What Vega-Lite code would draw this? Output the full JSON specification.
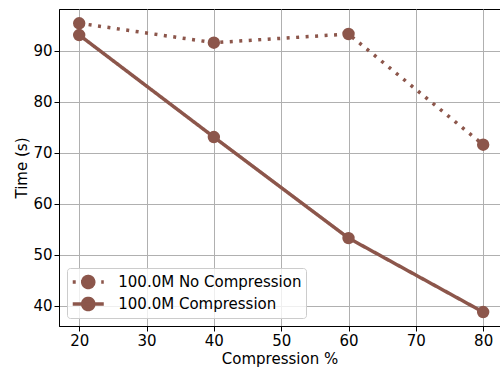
{
  "$schema": "https://vega.github.io/schema/vega-lite/v6.json",
  "width": 441,
  "height": 317,
  "autosize": {"type": "none"},
  "padding": {"left": 59, "top": 9, "right": 0, "bottom": 43},
  "background": "white",
  "config": {
    "font": "DejaVu Sans",
    "view": {"stroke": "black", "strokeWidth": 1},
    "axis": {
      "gridColor": "#b0b0b0",
      "gridWidth": 1,
      "gridOpacity": 1,
      "domainColor": "black",
      "tickColor": "black",
      "tickSize": 5,
      "labelFontSize": 15,
      "titleFontSize": 15,
      "titleFontWeight": "normal",
      "labelColor": "black",
      "titleColor": "black",
      "labelPadding": 2
    },
    "legend": {
      "orient": "bottom-left",
      "offset": 8,
      "fillColor": "rgba(255,255,255,0.8)",
      "strokeColor": "#cccccc",
      "cornerRadius": 3,
      "padding": 4,
      "labelFontSize": 15,
      "labelColor": "black",
      "labelLimit": 0,
      "rowPadding": 2,
      "clipHeight": 20
    }
  },
  "data": {
    "values": [
      {"compression": 20, "time": 95.4, "series": "100.0M No Compression"},
      {"compression": 40, "time": 91.6, "series": "100.0M No Compression"},
      {"compression": 60, "time": 93.3, "series": "100.0M No Compression"},
      {"compression": 80, "time": 71.6, "series": "100.0M No Compression"},
      {"compression": 20, "time": 93.1, "series": "100.0M Compression"},
      {"compression": 40, "time": 73.1, "series": "100.0M Compression"},
      {"compression": 60, "time": 53.3, "series": "100.0M Compression"},
      {"compression": 80, "time": 38.8, "series": "100.0M Compression"}
    ]
  },
  "encoding": {
    "x": {
      "field": "compression",
      "type": "quantitative",
      "scale": {"domain": [17, 82.5], "nice": false, "zero": false},
      "axis": {"values": [20, 30, 40, 50, 60, 70, 80], "title": "Compression %", "titlePadding": 3}
    },
    "y": {
      "field": "time",
      "type": "quantitative",
      "scale": {"domain": [36.07, 98.2], "nice": false, "zero": false},
      "axis": {"values": [40, 50, 60, 70, 80, 90], "title": "Time (s)", "titlePadding": 3}
    }
  },
  "layer": [
    {
      "mark": {"type": "line", "strokeWidth": 3.5, "color": "#8c564b", "clip": true, "strokeCap": "butt"},
      "encoding": {
        "strokeDash": {
          "field": "series",
          "type": "nominal",
          "scale": {"domain": ["100.0M No Compression", "100.0M Compression"], "range": [[3, 6.5], [1, 0]]},
          "legend": {
            "title": null,
            "symbolType": "M-1.94,0L1.94,0M-0.69,0A0.69,0.69,0,1,0,0.69,0A0.69,0.69,0,1,0,-0.69,0A0.69,0.69,0,1,0,0.69,0A0.69,0.69,0,1,0,-0.69,0A0.69,0.69,0,1,0,0.69,0A0.69,0.69,0,1,0,-0.69,0A0.69,0.69,0,1,0,0.69,0A0.69,0.69,0,1,0,-0.69,0A0.69,0.69,0,1,0,0.69,0A0.69,0.69,0,1,0,-0.69,0Z",
            "symbolSize": 256,
            "symbolFillColor": "#8c564b",
            "symbolStrokeColor": "#8c564b",
            "symbolStrokeWidth": 3.5,
            "symbolOffset": 7.25,
            "labelOffset": 20
          }
        }
      }
    },
    {
      "mark": {"type": "point", "filled": true, "size": 154, "opacity": 1, "color": "#8c564b", "clip": true},
      "encoding": {"detail": {"field": "series", "type": "nominal"}}
    }
  ]
}
